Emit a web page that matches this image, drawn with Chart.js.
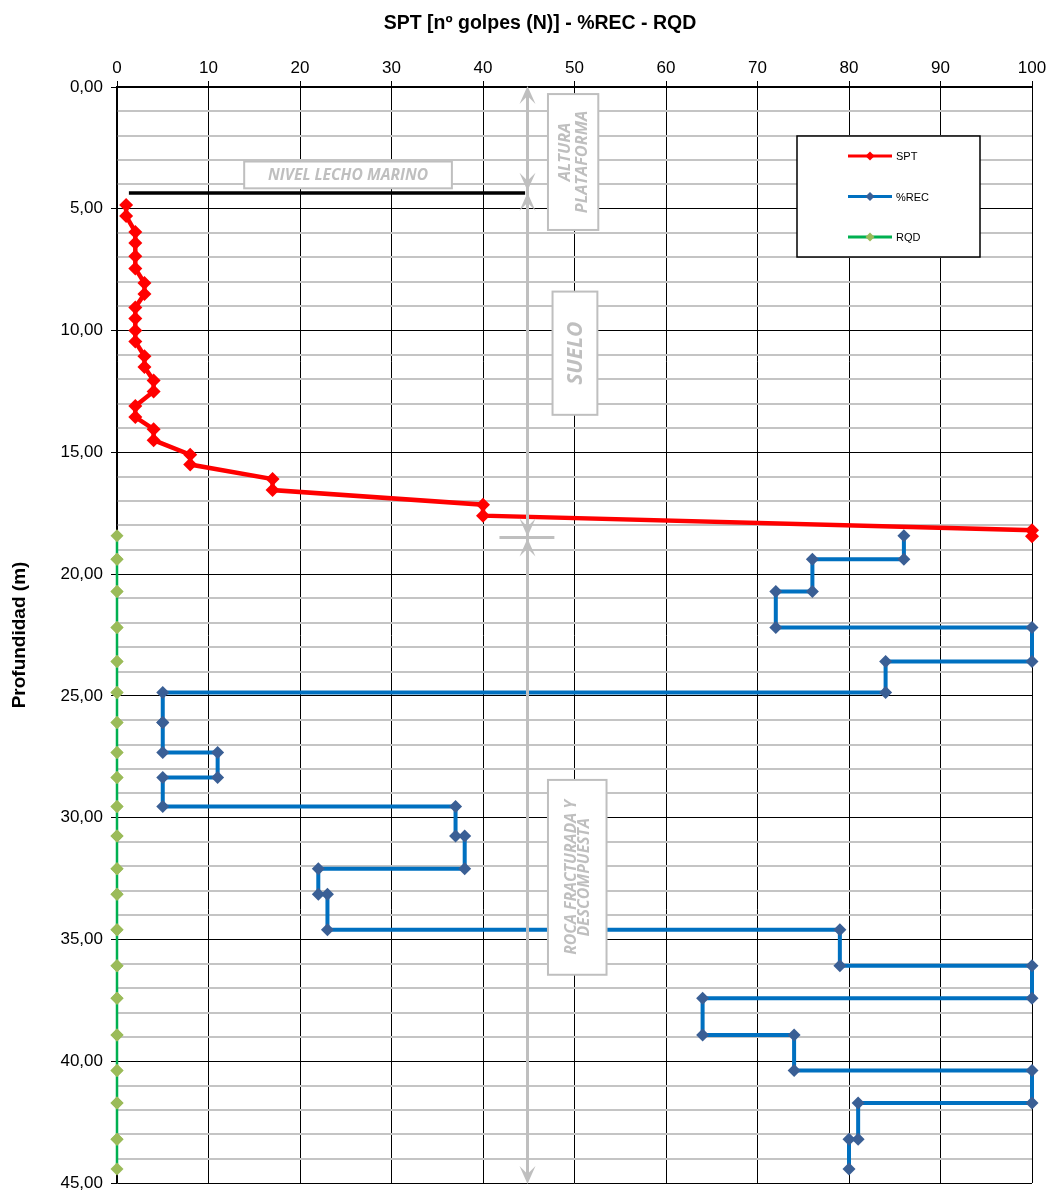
<!DOCTYPE html>
<html><head><meta charset="utf-8">
<script src="https://cdn.jsdelivr.net/npm/chart.js@4.4.1/dist/chart.umd.min.js"></script>
<style>html,body{margin:0;padding:0;background:#fff}#wrap{width:1048px;height:1191px;position:relative}canvas{display:block}</style>
</head><body><div id="wrap"><canvas id="c" width="1048" height="1191" style="width:1048px;height:1191px"></canvas></div>
<script>
// ---------- DATA ----------
const chartTitle = 'SPT [nº golpes (N)] - %REC - RQD';
const yTitle = 'Profundidad (m)';
const seriesLabels = ['SPT', '%REC', 'RQD'];
// SPT tests: top depth, bottom depth, blow count
const sptTop    = [4.85, 5.95, 6.95, 8.05, 9.05, 10.00, 11.05, 12.05, 13.10, 14.05, 15.10, 16.10, 17.15, 18.20];
const sptBottom = [5.30, 6.40, 7.45, 8.50, 9.50, 10.45, 11.50, 12.50, 13.55, 14.50, 15.50, 16.55, 17.60, 18.45];
const sptN      = [1, 2, 2, 3, 2, 2, 3, 4, 2, 4, 8, 17, 40, 100];
// Core runs: boundaries (m) and %REC / RQD per run
const runBounds = [18.43, 19.39, 20.71, 22.19, 23.59, 24.86, 26.09, 27.32, 28.35, 29.54, 30.75,
                   32.10, 33.14, 34.60, 36.08, 37.41, 38.92, 40.38, 41.72, 43.20, 44.43];
const recValue  = [86, 76, 72, 100, 84, 5, 5, 11, 5, 37, 38, 22, 23, 79, 100, 64, 74, 100, 81, 80];
const rqdValue  = [0, 0, 0, 0, 0, 0, 0, 0, 0, 0, 0, 0, 0, 0, 0, 0, 0, 0, 0, 0];
// Axes
const xMin = 0, xMax = 100, xStep = 10;
const depthMin = 0, depthMax = 45, depthMinorStep = 1, depthMajorStep = 5;

// ---------- BUILD POINTS ----------
function pairs(tops, bots, vals) {
  const out = [];
  vals.forEach((v, i) => { out.push({x: v, y: tops[i]}); out.push({x: v, y: bots[i]}); });
  return out;
}
const sptPts = pairs(sptTop, sptBottom, sptN);
const recPts = pairs(runBounds.slice(0, -1), runBounds.slice(1), recValue);
const rqdPts = pairs(runBounds.slice(0, -1), runBounds.slice(1), rqdValue);

const GRAY = '#bfbfbf';
const FONT = "'Liberation Sans', Arial, sans-serif";
const AFONT = "'Open Sans', 'DejaVu Sans', sans-serif";

// annotation shapes (in data units: x = value scale, y = depth)
const arrowX = 44.8;
const seabedDepth = 4.35, seabedX0 = 1.3, seabedX1 = 44.6;
const platformDepth = 4.3, rockDepth = 18.5;
const boxes = [
  {x0: 13.9, x1: 36.6, d0: 3.06, d1: 4.16, lines: ['NIVEL LECHO MARINO'], size: 15.6, rot: false, gap: 0, off: [0]},
  {x0: 47.1, x1: 52.6, d0: 0.29, d1: 5.87, lines: ['ALTURA', 'PLATAFORMA'], size: 16.3, rot: true, gap: 17, off: [10, 0]},
  {x0: 47.6, x1: 52.5, d0: 8.40, d1: 13.46, lines: ['SUELO'], size: 21, rot: true, gap: 0, off: [0]},
  {x0: 47.1, x1: 53.5, d0: 28.45, d1: 36.45, lines: ['ROCA FRACTURADA Y', 'DESCOMPUESTA'], size: 15.8, rot: true, gap: 13, off: [0, 0]}
];

function arrowHead(ctx, x, tipY, dir) { // dir=+1 points down, -1 points up
  const L = 18, W = 8;
  ctx.beginPath();
  ctx.moveTo(x, tipY);
  ctx.lineTo(x - W, tipY - dir * L);
  ctx.lineTo(x, tipY - dir * L * 0.55);
  ctx.lineTo(x + W, tipY - dir * L);
  ctx.closePath();
  ctx.fill();
}

const decor = {
  id: 'decor',
  afterDraw(chart) {
    const {ctx, scales: {x, y}} = chart;
    const px = v => x.getPixelForValue(v), py = d => y.getPixelForValue(d);
    ctx.save();
    // title
    ctx.fillStyle = '#000';
    ctx.font = "bold 19.5px " + FONT;
    ctx.textAlign = 'center'; ctx.textBaseline = 'middle';
    ctx.fillText(chartTitle, 540, 24);

    // gray arrow
    const ax = Math.round(px(arrowX)) + 0.5;
    ctx.strokeStyle = GRAY; ctx.fillStyle = GRAY; ctx.lineWidth = 3;
    ctx.beginPath(); ctx.moveTo(ax, py(depthMin) + 4); ctx.lineTo(ax, py(depthMax) - 4); ctx.stroke();
    ctx.beginPath(); ctx.moveTo(px(arrowX - 3), py(rockDepth)); ctx.lineTo(px(arrowX + 3), py(rockDepth)); ctx.stroke();
    arrowHead(ctx, ax, py(depthMin) - 1, -1);
    arrowHead(ctx, ax, py(platformDepth) - 1, 1);
    arrowHead(ctx, ax, py(platformDepth) + 1, -1);
    arrowHead(ctx, ax, py(rockDepth) - 1, 1);
    arrowHead(ctx, ax, py(rockDepth) + 1, -1);
    arrowHead(ctx, ax, py(depthMax) + 1, 1);

    // seabed line
    ctx.strokeStyle = '#000'; ctx.lineWidth = 3.5;
    ctx.beginPath(); ctx.moveTo(px(seabedX0), py(seabedDepth)); ctx.lineTo(px(seabedX1), py(seabedDepth)); ctx.stroke();

    // boxes
    boxes.forEach(b => {
      const l = px(b.x0), r = px(b.x1), t = py(b.d0), bt = py(b.d1);
      ctx.fillStyle = '#fff'; ctx.fillRect(l, t, r - l, bt - t);
      ctx.strokeStyle = GRAY; ctx.lineWidth = 2; ctx.strokeRect(l, t, r - l, bt - t);
      ctx.save();
      ctx.translate((l + r) / 2, (t + bt) / 2);
      if (b.rot) ctx.rotate(-Math.PI / 2);
      ctx.fillStyle = GRAY; ctx.font = "italic bold " + b.size + "px " + AFONT;
      ctx.textAlign = 'center'; ctx.textBaseline = 'middle';
      const n = b.lines.length;
      b.lines.forEach((s, i) => ctx.fillText(s, b.off[i], (i - (n - 1) / 2) * b.gap + 1));
      ctx.restore();
    });

    // legend
    const lx = 797, ly = 136, lw = 183, lh = 121;
    ctx.fillStyle = '#fff'; ctx.fillRect(lx, ly, lw, lh);
    ctx.strokeStyle = '#000'; ctx.lineWidth = 1.5; ctx.strokeRect(lx, ly, lw, lh);
    const rowsY = [156, 196.5, 237];
    chart.data.datasets.forEach((ds, i) => {
      const yy = rowsY[i];
      ctx.strokeStyle = ds.borderColor; ctx.lineWidth = 3;
      ctx.beginPath(); ctx.moveTo(848, yy); ctx.lineTo(892, yy); ctx.stroke();
      ctx.fillStyle = ds.pointBackgroundColor;
      ctx.beginPath(); ctx.moveTo(870, yy - 4.5); ctx.lineTo(874.5, yy); ctx.lineTo(870, yy + 4.5); ctx.lineTo(865.5, yy); ctx.closePath(); ctx.fill();
      ctx.fillStyle = '#000'; ctx.font = "11px " + FONT; ctx.textAlign = 'left'; ctx.textBaseline = 'middle';
      ctx.fillText(ds.label, 896, yy + 1);
    });
    ctx.restore();
  }
};

new Chart(document.getElementById('c'), {
  type: 'scatter',
  data: {
    datasets: [
      {label: seriesLabels[0], data: sptPts, showLine: true, borderColor: '#ff0000', borderWidth: 4.5,
       pointStyle: 'rectRot', pointRadius: 7, pointBackgroundColor: '#ff0000', pointBorderColor: '#ff0000', pointBorderWidth: 0, clip: false},
      {label: seriesLabels[1], data: recPts, showLine: true, borderColor: '#0070c0', borderWidth: 4,
       pointStyle: 'rectRot', pointRadius: 6.5, pointBackgroundColor: '#3a5f95', pointBorderColor: '#3a5f95', pointBorderWidth: 0, clip: false},
      {label: seriesLabels[2], data: rqdPts, showLine: true, borderColor: '#00b050', borderWidth: 2.5,
       pointStyle: 'rectRot', pointRadius: 6.5, pointBackgroundColor: '#9bbb59', pointBorderColor: '#9bbb59', pointBorderWidth: 0, clip: false}
    ]
  },
  options: {
    responsive: false, maintainAspectRatio: false, animation: false, devicePixelRatio: 1,
    layout: {padding: {left: 0, top: 0, right: 16, bottom: 8}},
    plugins: {legend: {display: false}, tooltip: {enabled: false}, title: {display: false}},
    scales: {
      x: {
        type: 'linear', position: 'top', min: xMin, max: xMax,
        afterFit: s => { s.height = 87; s.paddingLeft = 0; s.paddingRight = 0; },
        ticks: {stepSize: xStep, maxRotation: 0, minRotation: 0, color: '#000', font: {family: FONT, size: 17}, padding: 2},
        grid: {color: '#000', lineWidth: 1, tickLength: 6, tickColor: '#000'},
        border: {display: true, color: '#000', width: 2}
      },
      y: {
        type: 'linear', reverse: true, min: depthMin, max: depthMax,
        afterFit: s => { s.width = 117; s.paddingTop = 0; s.paddingBottom = 0; },
        title: {display: true, text: yTitle, color: '#000', font: {family: FONT, size: 19, weight: 'bold'}, padding: {top: 8, bottom: 0}},
        ticks: {stepSize: depthMinorStep, autoSkip: false, maxTicksLimit: 200, color: '#000', font: {family: FONT, size: 17}, padding: 8,
          callback: v => (v % depthMajorStep === 0) ? v.toFixed(2).replace('.', ',') : ''},
        grid: {
          color: c => (c.tick && c.tick.value % depthMajorStep === 0) ? '#000' : '#c4c4c4',
          lineWidth: c => (c.tick && c.tick.value % depthMajorStep === 0) ? 1 : 2,
          tickLength: 6,
          tickColor: c => (c.tick && c.tick.value % depthMajorStep === 0) ? '#000' : 'rgba(0,0,0,0)'
        },
        border: {display: true, color: '#000', width: 1.5}
      }
    }
  },
  plugins: [decor]
});
</script></body></html>
